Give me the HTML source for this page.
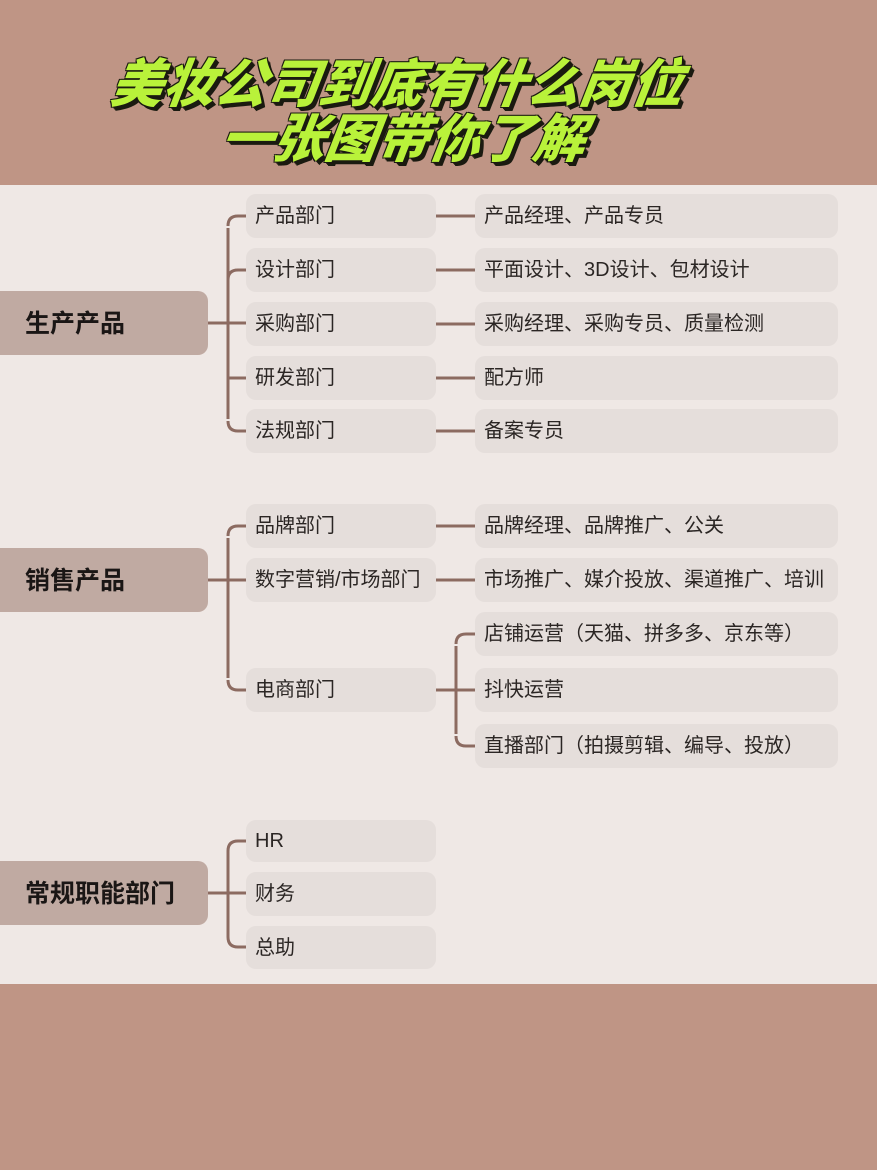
<!DOCTYPE html>
<html><head><meta charset="utf-8"><style>
body{margin:0;width:877px;height:1170px;position:relative;background:#bf9585;overflow:hidden;font-family:"Liberation Sans","Noto Sans CJK SC",sans-serif}
.band{position:absolute;left:0;top:185px;width:877px;height:799px;background:#efe8e5}
.b{position:absolute;background:#e5dedb;border-radius:10px;color:#2b2624;font-size:20px;line-height:45px;height:44px;box-sizing:border-box;padding-left:9px;white-space:nowrap}
.m{left:246px;width:190px}
.r{left:475px;width:363px}
.root{position:absolute;left:0;width:208px;height:64px;background:#c0aaa2;border-radius:0 10px 10px 0;font-weight:bold;font-size:25px;line-height:66px;padding-left:25px;box-sizing:border-box;color:#1a1615}
.t{position:absolute;font-family:"Noto Sans CJK SC",sans-serif;font-weight:900;font-style:italic;font-size:52px;color:#b9f23a;letter-spacing:0;transform:skewX(-8deg);text-shadow:1px 1px 0 #1a1a10,2px 2px 0 #1a1a10,3px 3px 0 #1a1a10,4px 4px 0 #1a1a10,-1px -1px 0 #1a1a10,1px -1px 0 #1a1a10,-1px 1px 0 #1a1a10;white-space:nowrap;line-height:56px}
svg{position:absolute;left:0;top:0}
</style></head><body>
<div class="band"></div>
<div class="t" style="left:112px;top:52px">美妆公司到底有什么岗位</div>
<div class="t" style="left:222px;top:107px">一张图带你了解</div>

<svg width="877" height="1170" fill="none" stroke="#8c6b61" stroke-width="3">
<path d="M208 323H246 M228 228V419 M246 216H238Q228 216 228 226 M246 270H238Q228 270 228 280 M246 431H238Q228 431 228 421 M228 378H246"/>
<path d="M436 216H475 M436 270H475 M436 324H475 M436 378H475 M436 431H475"/>
<path d="M208 580H246 M228 538V678 M246 526H238Q228 526 228 536 M246 690H238Q228 690 228 680 M436 526H475 M436 580H475"/>
<path d="M436 690H475 M456 646V734 M475 634H466Q456 634 456 644 M475 746H466Q456 746 456 736"/>
<path d="M208 893H246 M228 851V937 M246 841H238Q228 841 228 851 M246 947H238Q228 947 228 937"/>
</svg>

<div class="root" style="top:291px">生产产品</div>
<div class="root" style="top:548px">销售产品</div>
<div class="root" style="top:861px">常规职能部门</div>

<div class="b m" style="top:194px">产品部门</div>
<div class="b m" style="top:248px">设计部门</div>
<div class="b m" style="top:302px">采购部门</div>
<div class="b m" style="top:356px">研发部门</div>
<div class="b m" style="top:409px">法规部门</div>
<div class="b r" style="top:194px">产品经理、产品专员</div>
<div class="b r" style="top:248px">平面设计、3D设计、包材设计</div>
<div class="b r" style="top:302px">采购经理、采购专员、质量检测</div>
<div class="b r" style="top:356px">配方师</div>
<div class="b r" style="top:409px">备案专员</div>

<div class="b m" style="top:504px">品牌部门</div>
<div class="b m" style="top:558px">数字营销/市场部门</div>
<div class="b m" style="top:668px">电商部门</div>
<div class="b r" style="top:504px">品牌经理、品牌推广、公关</div>
<div class="b r" style="top:558px">市场推广、媒介投放、渠道推广、培训</div>
<div class="b r" style="top:612px">店铺运营（天猫、拼多多、京东等）</div>
<div class="b r" style="top:668px">抖快运营</div>
<div class="b r" style="top:724px">直播部门（拍摄剪辑、编导、投放）</div>

<div class="b m" style="top:820px;height:42px;line-height:43px">HR</div>
<div class="b m" style="top:872px">财务</div>
<div class="b m" style="top:926px;height:43px;line-height:44px">总助</div>
</body></html>
